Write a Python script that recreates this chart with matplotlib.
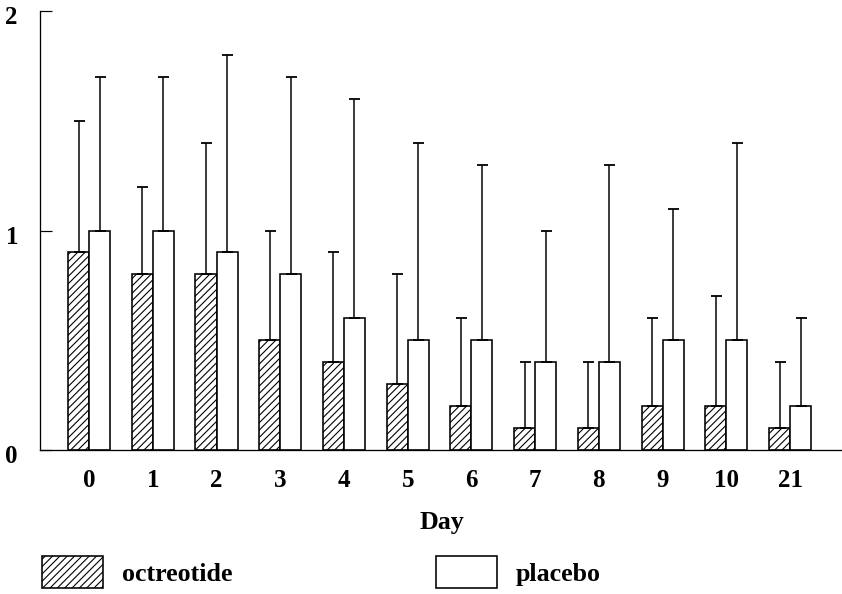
import matplotlib
matplotlib.use("Agg")
import matplotlib.pyplot as plt
import matplotlib.transforms as mtransforms
import numpy as np

# ---- data ----
days = ["0", "1", "2", "3", "4", "5", "6", "7", "8", "9", "10", "21"]
octreotide_mean = [0.9, 0.8, 0.8, 0.5, 0.4, 0.3, 0.2, 0.1, 0.1, 0.2, 0.2, 0.1]
octreotide_sd = [0.6, 0.4, 0.6, 0.5, 0.5, 0.5, 0.4, 0.3, 0.3, 0.4, 0.5, 0.3]
placebo_mean = [1.0, 1.0, 0.9, 0.8, 0.6, 0.5, 0.5, 0.4, 0.4, 0.5, 0.5, 0.2]
placebo_sd = [0.7, 0.7, 0.9, 0.9, 1.0, 0.9, 0.8, 0.6, 0.9, 0.6, 0.9, 0.4]
y_ticks = [0, 1, 2]
series_names = ["octreotide", "placebo"]
x_label = "Day"

# ---- style ----
DPI = 88
W, H = 842, 594


def px(v):
    return v * 72.0 / DPI


plt.rcParams["font.family"] = ["Liberation Serif", "DejaVu Serif"]
plt.rcParams["font.weight"] = "bold"
plt.rcParams["hatch.linewidth"] = px(1.1)
plt.rcParams["hatch.color"] = "black"

fig = plt.figure(figsize=(W / DPI, H / DPI), dpi=DPI)
ax = fig.add_axes([40 / W, 1 - 450 / H, (841 - 40) / W, (450 - 11) / H])

x = np.arange(len(days))
bw = 0.33
err_kw = dict(ecolor="black", elinewidth=px(1.5), capsize=px(5.5), capthick=px(1.8))

b1 = ax.bar(x - bw / 2, octreotide_mean, bw, color="white", edgecolor="black",
            linewidth=px(1.6), hatch="////", label=series_names[0], zorder=2)
b2 = ax.bar(x + bw / 2, placebo_mean, bw, color="white", edgecolor="black",
            linewidth=px(1.6), label=series_names[1], zorder=2)
ax.errorbar(x - bw / 2, octreotide_mean,
            yerr=[np.zeros(len(days)), octreotide_sd], fmt="none", zorder=3, **err_kw)
ax.errorbar(x + bw / 2, placebo_mean,
            yerr=[np.zeros(len(days)), placebo_sd], fmt="none", zorder=3, **err_kw)

ax.set_xlim(-0.77, 11.8)
ax.set_ylim(0, 2)
ax.set_yticks(y_ticks)
ax.set_yticklabels([str(t) for t in y_ticks])
ax.set_xticks(x)
ax.set_xticklabels(days)

for s in ["top", "right"]:
    ax.spines[s].set_visible(False)
for s in ["left", "bottom"]:
    ax.spines[s].set_linewidth(px(1.3))

ax.tick_params(axis="x", length=0, pad=px(19), labelsize=px(25))
ax.tick_params(axis="y", direction="in", length=px(12), width=px(1.2),
               pad=px(22), labelsize=px(25))

# y tick labels sit slightly below their ticks in the reference
shift = mtransforms.ScaledTranslation(0, -4 / DPI, fig.dpi_scale_trans)
for tk in ax.yaxis.get_major_ticks():
    tk.label1.set_transform(tk.label1.get_transform() + shift)

ax.set_xlabel(x_label, fontsize=px(26), fontweight="bold")
ax.xaxis.set_label_coords(0.502, -0.14)

leg = ax.legend(handles=[b1, b2], loc="upper left", ncol=2, frameon=False,
                bbox_to_anchor=(42 / W, 1 - 556 / H), bbox_transform=fig.transFigure,
                borderaxespad=0, borderpad=0, fontsize=px(26),
                handlelength=61 / 26, handleheight=40 / 26,
                handletextpad=19 / 26, columnspacing=203 / 26)

fig.savefig("out.png", dpi=DPI)
